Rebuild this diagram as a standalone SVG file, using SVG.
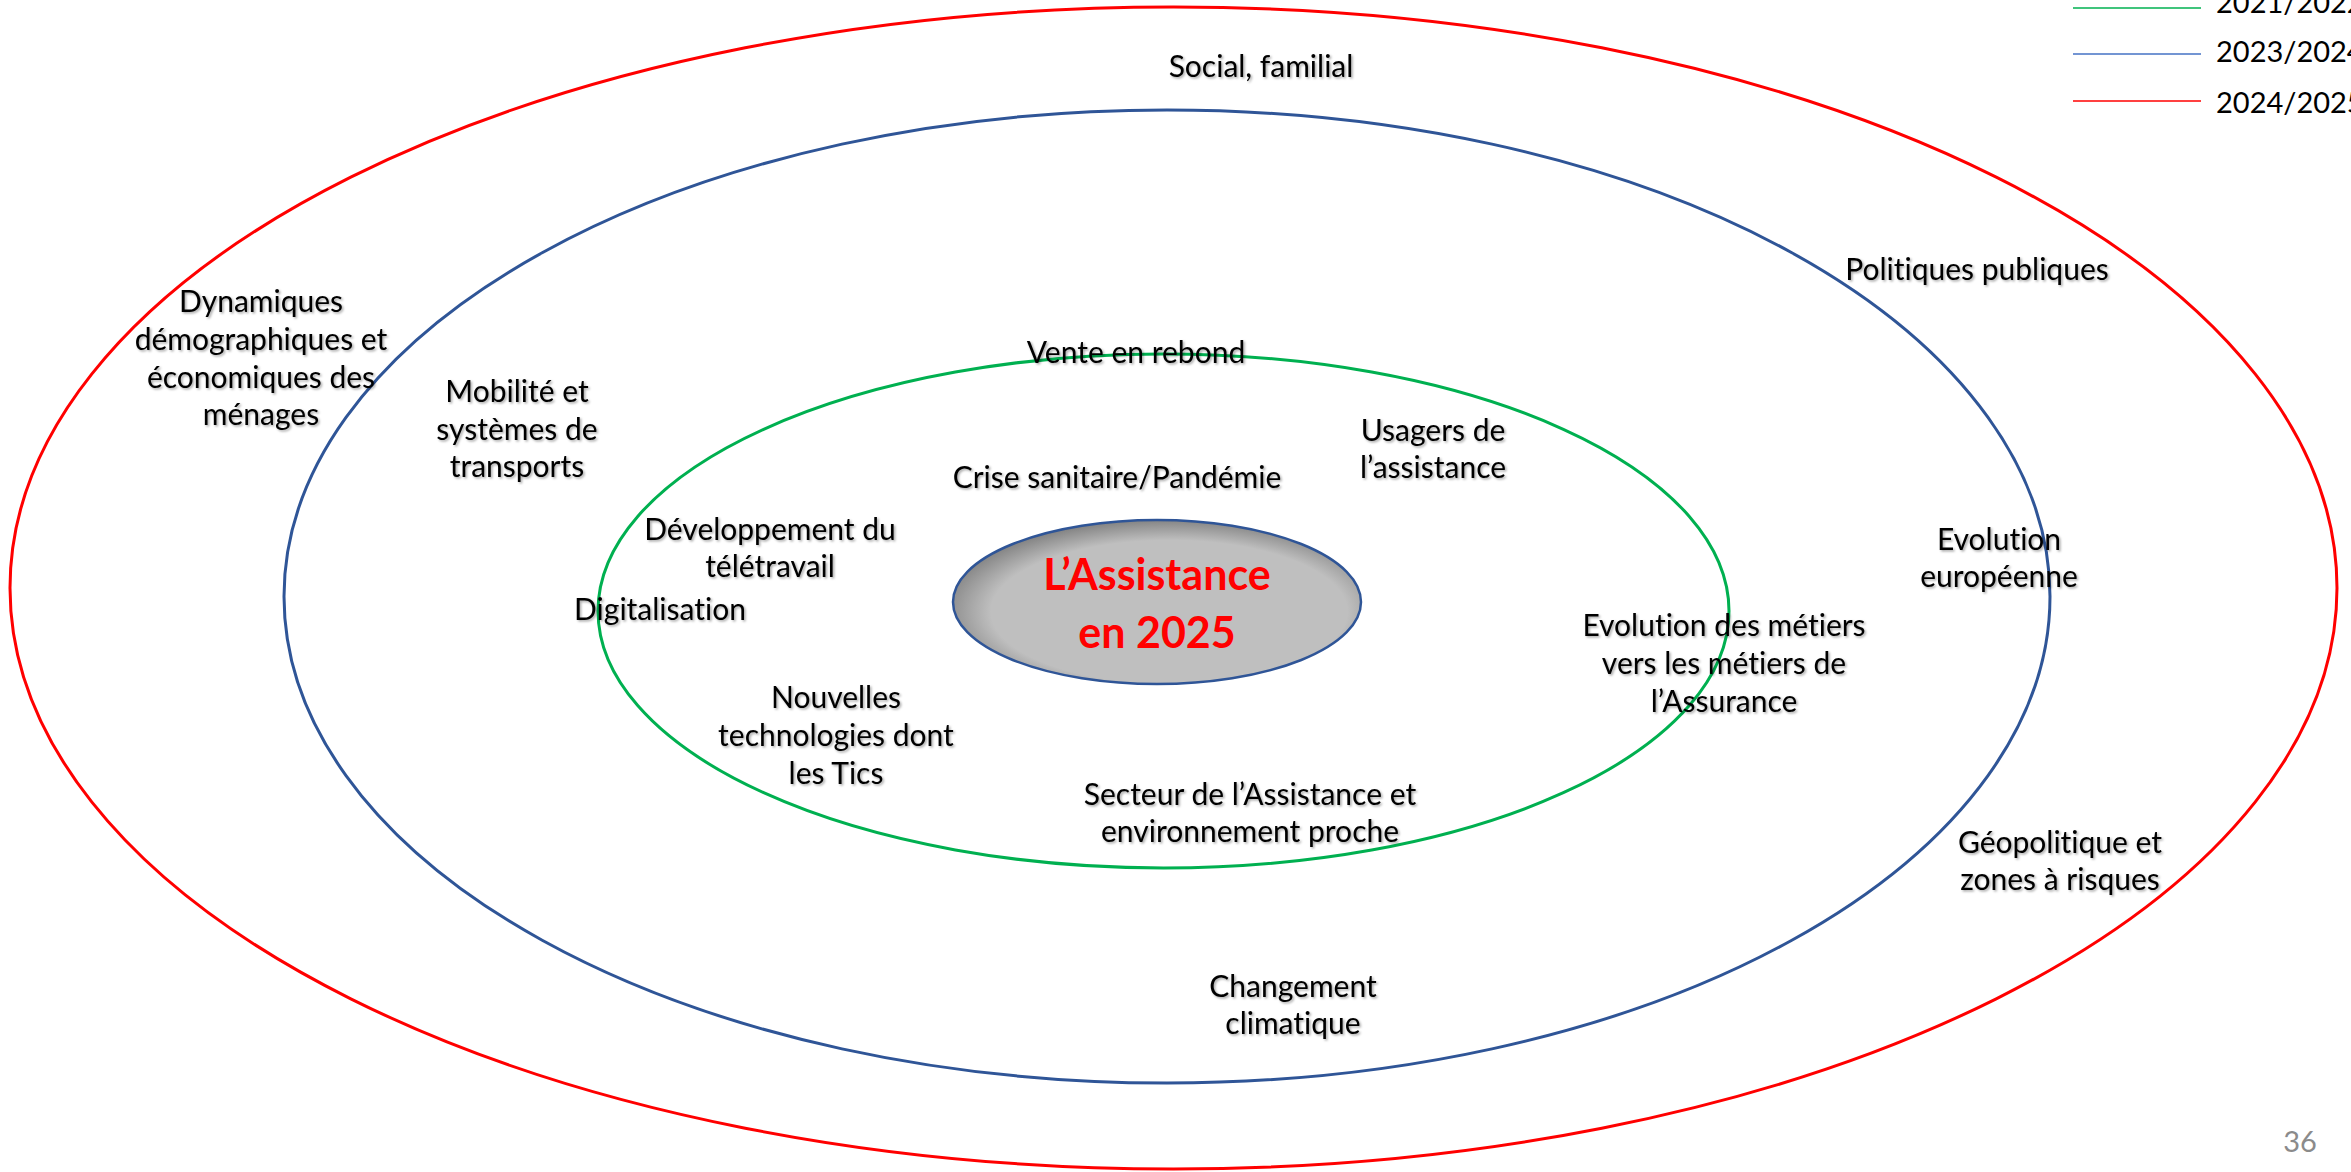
<svg xmlns="http://www.w3.org/2000/svg" width="2351" height="1172" viewBox="0 0 2351 1172">
<style>
text{font-variant-ligatures:none;font-feature-settings:"liga" 0,"clig" 0}
.t{font-family:Lato,"Liberation Sans",sans-serif;font-size:30px;fill:#000;text-anchor:middle;filter:url(#sh)}
.lg{font-family:Lato,"Liberation Sans",sans-serif;font-size:29px;fill:#000}
.ring{fill:none;stroke-width:3}
.c{font-family:Lato,"Liberation Sans",sans-serif;font-size:43px;font-weight:bold;fill:#FF0000;text-anchor:middle}
</style>
<defs>
<filter id="sh" x="-10%" y="-30%" width="120%" height="160%">
<feDropShadow dx="1.5" dy="1.5" stdDeviation="1" flood-color="#000" flood-opacity="0.35"/>
</filter>
<radialGradient id="gc" cx="0.53" cy="0.56" r="0.56">
<stop offset="0.78" stop-color="#BFBFBF"/>
<stop offset="1" stop-color="#858585"/>
</radialGradient>
</defs>
<rect width="2351" height="1172" fill="#fff"/>
<g id="rings">
<ellipse class="ring" cx="1173.5" cy="588" rx="1163.5" ry="581" stroke="#FF0000"/>
<ellipse class="ring" cx="1167" cy="596.5" rx="883" ry="486.5" stroke="#2F5597"/>
<ellipse class="ring" cx="1163.5" cy="611" rx="565.5" ry="257" stroke="#00B050"/>
</g>
<g id="legend">
<line x1="2073" y1="8" x2="2201" y2="8" stroke="#00B050" stroke-width="1.5"/>
<line x1="2073" y1="54" x2="2201" y2="54" stroke="#4472C4" stroke-width="1.5"/>
<line x1="2073" y1="101" x2="2201" y2="101" stroke="#FF0000" stroke-width="1.5"/>
<text class="lg" x="2216" y="13">2021/2022</text>
<text class="lg" x="2216" y="62">2023/2024</text>
<text class="lg" x="2216" y="113">2024/2025</text>
</g>
<g id="center">
<ellipse cx="1157" cy="602" rx="204" ry="82" fill="url(#gc)" stroke="#2F5597" stroke-width="2.5"/>
<text class="c" x="1157" y="590">L’Assistance</text>
<text class="c" x="1157" y="648">en 2025</text>
</g>
<g id="social"><text class="t" x="1261" y="77">Social, familial</text></g>
<g id="politiques"><text class="t" x="1977" y="280">Politiques publiques</text></g>
<g id="dynamiques"><text class="t" x="261" y="312">Dynamiques</text><text class="t" x="261" y="350">démographiques et</text><text class="t" x="261" y="388">économiques des</text><text class="t" x="261" y="425">ménages</text></g>
<g id="mobilite"><text class="t" x="517" y="402">Mobilité et</text><text class="t" x="517" y="440">systèmes de</text><text class="t" x="517" y="477">transports</text></g>
<g id="vente"><text class="t" x="1136" y="363">Vente en rebond</text></g>
<g id="usagers"><text class="t" x="1433" y="441">Usagers de</text><text class="t" x="1433" y="478">l’assistance</text></g>
<g id="crise"><text class="t" x="1117" y="488">Crise sanitaire/Pandémie</text></g>
<g id="teletravail"><text class="t" x="770" y="540">Développement du</text><text class="t" x="770" y="577">télétravail</text></g>
<g id="digitalisation"><text class="t" x="660" y="620">Digitalisation</text></g>
<g id="europe"><text class="t" x="1999" y="550">Evolution</text><text class="t" x="1999" y="587">européenne</text></g>
<g id="tics"><text class="t" x="836" y="708">Nouvelles</text><text class="t" x="836" y="746">technologies dont</text><text class="t" x="836" y="784">les Tics</text></g>
<g id="metiers"><text class="t" x="1724" y="636">Evolution des métiers</text><text class="t" x="1724" y="674">vers les métiers de</text><text class="t" x="1724" y="712">l’Assurance</text></g>
<g id="secteur"><text class="t" x="1250" y="805">Secteur de l’Assistance et</text><text class="t" x="1250" y="842">environnement proche</text></g>
<g id="geopolitique"><text class="t" x="2060" y="853">Géopolitique et</text><text class="t" x="2060" y="890">zones à risques</text></g>
<g id="climat"><text class="t" x="1293" y="997">Changement</text><text class="t" x="1293" y="1034">climatique</text></g>
<g id="page"><text x="2300" y="1152" font-family="Lato,'Liberation Sans',sans-serif" font-size="29" fill="#8B8B8B" text-anchor="middle">36</text></g>
<g id="connectors"></g>
</svg>
